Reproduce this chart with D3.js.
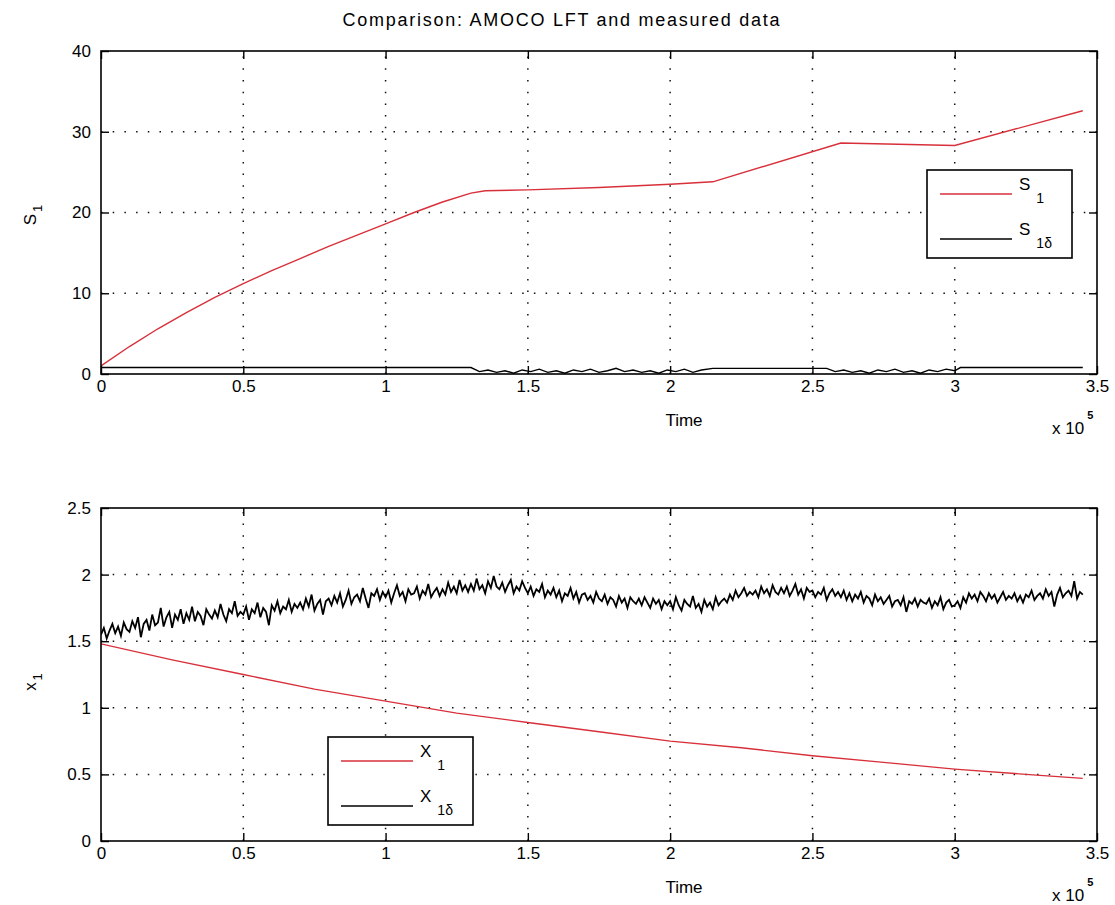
<!DOCTYPE html>
<html><head><meta charset="utf-8">
<script src="https://cdn.jsdelivr.net/npm/d3@7"></script>
<style>
body{margin:0;background:#fff}
svg text{font-family:"Liberation Sans",Arial,Helvetica,sans-serif;fill:#000}
</style>
</head><body>
<svg id="chart" width="1115" height="905"></svg>
<script>
// ---------------- data (time in units of 1e5) ----------------
const titleText = "Comparison: AMOCO LFT and measured data";
const xTicks = [0, 0.5, 1, 1.5, 2, 2.5, 3, 3.5];
const topYTicks = [0, 10, 20, 30, 40];
const botYTicks = [0, 0.5, 1, 1.5, 2, 2.5];

// S1 (model)
const s1Time = [0, 0.1, 0.2, 0.3, 0.4, 0.5, 0.6, 0.7, 0.8, 0.9, 1.0, 1.1, 1.2, 1.3, 1.35, 1.5, 1.75, 2.0, 2.15, 2.6, 3.0, 3.45];
const s1Vals = [1.0, 3.4, 5.6, 7.6, 9.5, 11.2, 12.8, 14.3, 15.8, 17.2, 18.6, 20.0, 21.3, 22.4, 22.7, 22.8, 23.1, 23.5, 23.8, 28.6, 28.3, 32.6];

// S1delta (measured)
const s1dTime = [0, 1.3, 1.33, 1.36, 1.39, 1.42, 1.45, 1.48, 1.51, 1.54, 1.57, 1.6, 1.63, 1.66, 1.69, 1.72, 1.75, 1.78, 1.81, 1.84, 1.87, 1.9, 1.93, 1.96, 1.99, 2.02, 2.05, 2.08, 2.11, 2.15, 2.55, 2.58, 2.61, 2.64, 2.67, 2.7, 2.73, 2.76, 2.79, 2.82, 2.85, 2.88, 2.91, 2.94, 2.97, 3.0, 3.02, 3.45];
const s1dVals = [0.8, 0.8, 0.3, 0.5, 0.2, 0.4, 0.1, 0.5, 0.3, 0.6, 0.2, 0.4, 0.1, 0.5, 0.3, 0.6, 0.2, 0.4, 0.7, 0.3, 0.5, 0.2, 0.4, 0.1, 0.5, 0.3, 0.6, 0.2, 0.5, 0.7, 0.7, 0.3, 0.5, 0.2, 0.4, 0.1, 0.5, 0.3, 0.6, 0.2, 0.4, 0.1, 0.5, 0.3, 0.6, 0.4, 0.8, 0.8];

// X1 (model)
const x1Time = [0, 0.25, 0.5, 0.75, 1.0, 1.25, 1.5, 1.75, 2.0, 2.25, 2.5, 2.75, 3.0, 3.25, 3.45];
const x1Vals = [1.48, 1.36, 1.25, 1.14, 1.05, 0.96, 0.89, 0.82, 0.75, 0.70, 0.64, 0.59, 0.54, 0.50, 0.47];

// X1delta (measured, sampled every 0.01e5)
const x1dStep = 0.01;
const x1dVals = [
1.55,1.60,1.52,1.58,1.63,1.56,1.61,1.54,1.64,1.59,
1.57,1.65,1.60,1.68,1.53,1.63,1.66,1.58,1.70,1.62,
1.64,1.75,1.61,1.68,1.72,1.60,1.70,1.66,1.74,1.63,
1.71,1.66,1.76,1.65,1.72,1.69,1.62,1.74,1.70,1.67,
1.73,1.68,1.78,1.70,1.65,1.74,1.71,1.80,1.69,1.72,
1.70,1.76,1.66,1.74,1.71,1.79,1.68,1.75,1.72,1.62,
1.77,1.73,1.80,1.71,1.76,1.74,1.81,1.72,1.78,1.75,
1.79,1.74,1.82,1.76,1.85,1.73,1.78,1.81,1.70,1.80,
1.82,1.77,1.84,1.79,1.86,1.76,1.81,1.88,1.78,1.83,
1.85,1.80,1.90,1.82,1.75,1.86,1.84,1.89,1.81,1.87,
1.83,1.88,1.79,1.86,1.92,1.84,1.87,1.80,1.89,1.85,
1.86,1.91,1.82,1.88,1.85,1.93,1.83,1.87,1.90,1.84,
1.89,1.85,1.94,1.87,1.91,1.86,1.96,1.88,1.92,1.87,
1.93,1.88,1.97,1.89,1.92,1.86,1.95,1.90,1.99,1.91,
1.89,1.94,1.87,1.92,1.96,1.86,1.91,1.88,1.95,1.90,
1.86,1.91,1.84,1.89,1.87,1.93,1.83,1.88,1.85,1.90,
1.83,1.88,1.80,1.86,1.84,1.90,1.82,1.87,1.79,1.85,
1.86,1.81,1.84,1.79,1.87,1.82,1.80,1.85,1.78,1.83,
1.81,1.76,1.84,1.79,1.82,1.75,1.83,1.80,1.78,1.82,
1.77,1.83,1.79,1.75,1.82,1.78,1.81,1.74,1.80,1.77,
1.80,1.74,1.83,1.77,1.73,1.81,1.78,1.76,1.84,1.75,
1.78,1.72,1.81,1.76,1.79,1.74,1.83,1.77,1.80,1.82,
1.79,1.85,1.81,1.88,1.83,1.86,1.90,1.84,1.87,1.85,
1.88,1.83,1.91,1.86,1.89,1.84,1.92,1.87,1.85,1.90,
1.86,1.91,1.84,1.88,1.93,1.85,1.89,1.82,1.90,1.87,
1.88,1.83,1.87,1.85,1.90,1.81,1.86,1.89,1.84,1.87,
1.83,1.88,1.81,1.86,1.80,1.85,1.82,1.87,1.79,1.84,
1.82,1.77,1.85,1.80,1.83,1.78,1.81,1.84,1.76,1.80,
1.81,1.77,1.83,1.72,1.80,1.78,1.82,1.76,1.81,1.79,
1.78,1.82,1.75,1.80,1.77,1.83,1.74,1.79,1.81,1.76,
1.77,1.80,1.75,1.83,1.79,1.86,1.82,1.85,1.80,1.87,
1.84,1.80,1.86,1.82,1.85,1.79,1.83,1.87,1.81,1.84,
1.82,1.86,1.80,1.84,1.79,1.85,1.83,1.88,1.81,1.84,
1.86,1.82,1.89,1.84,1.87,1.76,1.85,1.90,1.83,1.86,
1.88,1.84,1.95,1.82,1.87,1.85
];

// ---------------- drawing ----------------
const svg = d3.select("#chart");
const RED = "#d8303a";
const FONT = 17;

svg.append("text")
  .attr("x", 561).attr("y", 26)
  .attr("text-anchor", "middle")
  .attr("font-size", 18)
  .attr("textLength", 437).attr("lengthAdjust", "spacing")
  .text(titleText);

function panel(cfg) {
  const x = d3.scaleLinear().domain([0, 3.5]).range([101, 1097]);
  const y = d3.scaleLinear().domain(cfg.yDomain).range([cfg.yBottom, cfg.yTop]);
  const g = svg.append("g");
  const id = "clip" + cfg.name;
  svg.append("clipPath").attr("id", id).append("rect")
    .attr("x", 101).attr("y", cfg.yTop).attr("width", 996).attr("height", cfg.yBottom - cfg.yTop);

  // grid
  const grid = g.append("g").attr("stroke", "#111").attr("stroke-width", 1.5);
  grid.selectAll("line.v").data(xTicks.slice(1, -1)).join("line")
    .attr("x1", d => x(d)).attr("x2", d => x(d))
    .attr("y1", cfg.yBottom).attr("y2", cfg.yTop)
    .attr("stroke-dasharray", "1.5,10.2");
  grid.selectAll("line.h").data(cfg.yTicks.slice(1, -1)).join("line")
    .attr("y1", d => y(d)).attr("y2", d => y(d))
    .attr("x1", 101).attr("x2", 1097)
    .attr("stroke-dasharray", "1.5,10.2");

  // data lines
  const lines = g.append("g").attr("clip-path", `url(#${id})`).attr("fill", "none");
  cfg.series.forEach(s => {
    const pts = s.t.map((t, i) => [t, s.v[i]]);
    lines.append("path")
      .attr("d", d3.line().x(d => x(d[0])).y(d => y(d[1]))(pts))
      .attr("stroke", s.color).attr("stroke-width", s.width)
      .attr("stroke-linejoin", "miter");
  });

  // axes (ticks inside, box)
  const tk = 8;
  const ax = g.append("g");
  ax.append("g").attr("transform", `translate(0,${cfg.yBottom})`)
    .call(d3.axisBottom(x).tickValues(xTicks).tickSize(-tk).tickPadding(6).tickFormat(d => d));
  ax.append("g").attr("transform", `translate(0,${cfg.yTop})`)
    .call(d3.axisTop(x).tickValues(xTicks).tickSize(-tk).tickFormat(""));
  ax.append("g").attr("transform", `translate(101,0)`)
    .call(d3.axisLeft(y).tickValues(cfg.yTicks).tickSize(-tk).tickPadding(10).tickFormat(d => d));
  ax.append("g").attr("transform", `translate(1097,0)`)
    .call(d3.axisRight(y).tickValues(cfg.yTicks).tickSize(-tk).tickFormat(""));
  ax.selectAll(".domain").remove();
  ax.selectAll(".tick line").attr("stroke", "#000").attr("stroke-width", 1.4);
  ax.selectAll(".tick text").attr("font-size", FONT).attr("font-family", "Liberation Sans, Arial, sans-serif").attr("fill", "#000");
  g.append("rect").attr("x", 101).attr("y", cfg.yTop).attr("width", 996).attr("height", cfg.yBottom - cfg.yTop)
    .attr("fill", "none").attr("stroke", "#000").attr("stroke-width", 1.6);

  // x label
  g.append("text").attr("x", 684).attr("y", cfg.yBottom + 52).attr("text-anchor", "middle")
    .attr("font-size", FONT).text("Time");
  const ex = g.append("text").attr("x", 1052).attr("y", cfg.yBottom + 60).attr("font-size", FONT);
  ex.append("tspan").text("x 10");
  ex.append("tspan").attr("dy", -15).attr("dx", 3).attr("font-size", 11).attr("font-weight", "bold").text("5");

  // y label
  const yl = g.append("text")
    .attr("transform", `translate(36,${cfg.yLabelY}) rotate(-90)`)
    .attr("text-anchor", "middle").attr("font-size", FONT);
  yl.append("tspan").text(cfg.yLabel);
  yl.append("tspan").attr("dy", 6).attr("dx", 2).attr("font-size", 13).text("1");

  // legend
  const L = g.append("g").attr("transform", `translate(${cfg.legX},${cfg.legY})`);
  L.append("rect").attr("width", 145).attr("height", 88).attr("fill", "#fff")
    .attr("stroke", "#000").attr("stroke-width", 1.6);
  cfg.series.forEach((s, i) => {
    const ly = i === 0 ? 24 : 69;
    L.append("line").attr("x1", 13).attr("x2", 85).attr("y1", ly).attr("y2", ly)
      .attr("stroke", s.color).attr("stroke-width", 1.5);
    const t = L.append("text").attr("x", 92).attr("y", ly - 4).attr("font-size", FONT);
    t.append("tspan").text(cfg.legSym);
    t.append("tspan").attr("dy", 13).attr("dx", 6).attr("font-size", 14).text(s.sub);
  });
}

panel({
  name: "top", yTop: 51, yBottom: 374, yDomain: [0, 40], yTicks: topYTicks,
  yLabel: "S", yLabelY: 215, legX: 927, legY: 170, legSym: "S",
  series: [
    {t: s1Time, v: s1Vals, color: RED, width: 1.4, sub: "1"},
    {t: s1dTime, v: s1dVals, color: "#000", width: 1.4, sub: "1δ"}
  ]
});

panel({
  name: "bot", yTop: 508, yBottom: 841, yDomain: [0, 2.5], yTicks: botYTicks,
  yLabel: "x", yLabelY: 682, legX: 328, legY: 737, legSym: "X",
  series: [
    {t: x1Time, v: x1Vals, color: RED, width: 1.4, sub: "1"},
    {t: x1dVals.map((_, i) => i * x1dStep), v: x1dVals, color: "#000", width: 1.8, sub: "1δ"}
  ]
});
</script>
</body></html>
